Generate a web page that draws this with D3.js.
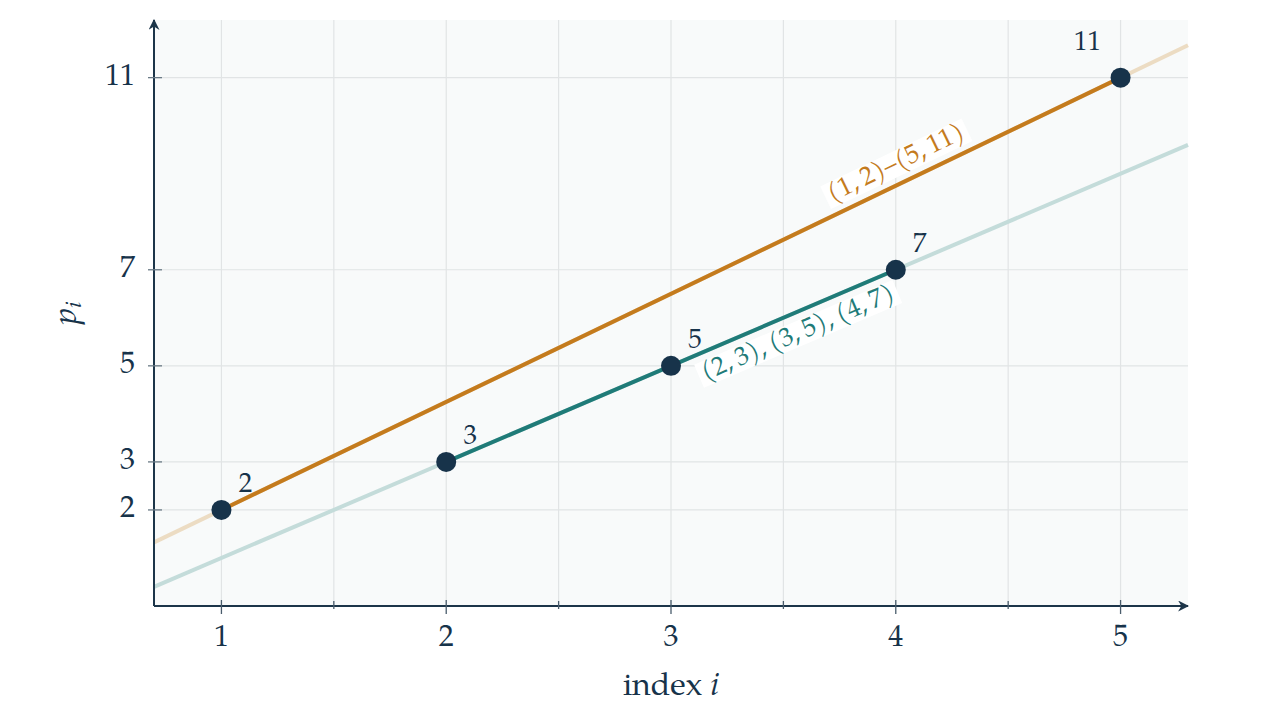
<!DOCTYPE html>
<html>
<head>
<meta charset="utf-8">
<script src="https://cdn.jsdelivr.net/npm/d3@7"></script>
<style>
  body { margin: 0; background: #fff; }
  text { font-family: "Palatino Linotype", Palatino, "TeX Gyre Pagella", "Liberation Serif", serif; fill: #17334a; }
</style>
</head>
<body>
<svg id="chart" width="1272" height="716"></svg>
<script>
// data
const indices = [1, 2, 3, 4, 5];
const primes = [2, 3, 5, 7, 11];
const yTicks = [2, 3, 5, 7, 11];
const xTicks = [1, 2, 3, 4, 5];
const xGrid = [1, 1.5, 2, 2.5, 3, 3.5, 4, 4.5, 5];
// line through first and last point, and line through points 2..4
const orangeIdx = [0, 4];
const tealIdx = [1, 2, 3];
const orangeLabel = "(1,\u20092)–(5,\u200911)";
const tealLabel = "(2,\u20093),\u2009(3,\u20095),\u2009(4,\u20097)";

const navy = "#17334a";
const orange = "#c47b1d";
const teal = "#1f7b78";

const svg = d3.select("#chart");
const x = d3.scaleLinear().domain([0.7, 5.3]).range([154, 1188]);
const y = d3.scaleLinear().domain([0, 12.2]).range([606, 20]);
const [x0, x1] = x.domain();
const [y0, y1] = y.domain();

// fond
svg.append("rect")
  .attr("x", x(x0)).attr("y", y(y1))
  .attr("width", x(x1) - x(x0)).attr("height", y(y0) - y(y1))
  .attr("fill", "#f8fafa");

// grille
svg.selectAll(".gx").data(xGrid).enter().append("line")
  .attr("x1", d => x(d)).attr("x2", d => x(d))
  .attr("y1", y(y0)).attr("y2", y(y1))
  .attr("stroke", "#e1e4e5").attr("stroke-width", 1.2);
svg.selectAll(".gy").data(yTicks).enter().append("line")
  .attr("x1", x(x0)).attr("x2", x(x1))
  .attr("y1", d => y(d)).attr("y2", d => y(d))
  .attr("stroke", "#e1e4e5").attr("stroke-width", 1.2);

// droites
function fitLine(ids) {
  const a = ids[0], b = ids[ids.length - 1];
  const m = (primes[b] - primes[a]) / (indices[b] - indices[a]);
  const f = t => primes[a] + m * (t - indices[a]);
  return { f, from: indices[a], to: indices[b], m };
}
function drawFit(fit, color, faded) {
  svg.append("line")
    .attr("x1", x(x0)).attr("y1", y(fit.f(x0)))
    .attr("x2", x(x1)).attr("y2", y(fit.f(x1)))
    .attr("stroke", faded).attr("stroke-width", 4);
  svg.append("line")
    .attr("x1", x(fit.from)).attr("y1", y(fit.f(fit.from)))
    .attr("x2", x(fit.to)).attr("y2", y(fit.f(fit.to)))
    .attr("stroke", color).attr("stroke-width", 4);
}
const fitO = fitLine(orangeIdx);
const fitT = fitLine(tealIdx);
drawFit(fitO, orange, "#ecdcc3");
drawFit(fitT, teal, "#c4dcda");

// étiquettes inclinées
function slopeLabel(fit, t, text, color, offset) {
  const px = x(t), py = y(fit.f(t));
  const ang = Math.atan2(y(fit.f(t + 1)) - py, x(t + 1) - px) * 180 / Math.PI;
  const g = svg.append("g")
    .attr("transform", `translate(${px},${py}) rotate(${ang}) translate(0,${offset})`);
  const txt = g.append("text")
    .attr("text-anchor", "middle").attr("dominant-baseline", "central")
    .attr("font-size", 26).style("fill", color).text(text);
  const bb = txt.node().getBBox();
  g.insert("rect", "text")
    .attr("x", bb.x - 4).attr("y", bb.y + 1)
    .attr("width", bb.width + 8).attr("height", bb.height - 2)
    .attr("fill", "#fff");
}
slopeLabel(fitO, 4.04, orangeLabel, orange, -19);
slopeLabel(fitT, 3.53, tealLabel, teal, 21);

// axes
const axisColor = "#1c3549";
svg.append("defs").append("marker")
  .attr("id", "arrow").attr("viewBox", "0 0 10 10")
  .attr("refX", 9).attr("refY", 5)
  .attr("markerWidth", 11).attr("markerHeight", 11)
  .attr("markerUnits", "userSpaceOnUse")
  .attr("orient", "auto")
  .append("path").attr("d", "M0,0 L10,5 L0,10 L3,5 Z").attr("fill", axisColor);

svg.append("line")
  .attr("x1", x(x0)).attr("y1", y(y0)).attr("x2", x(x1)).attr("y2", y(y0))
  .attr("stroke", axisColor).attr("stroke-width", 2).attr("marker-end", "url(#arrow)");
svg.append("line")
  .attr("x1", x(x0)).attr("y1", y(y0)).attr("x2", x(x0)).attr("y2", y(y1))
  .attr("stroke", axisColor).attr("stroke-width", 2).attr("marker-end", "url(#arrow)");

// graduations
svg.selectAll(".tx").data(xGrid).enter().append("line")
  .attr("x1", d => x(d)).attr("x2", d => x(d))
  .attr("y1", d => Number.isInteger(d) ? y(y0) - 6 : y(y0) - 5)
  .attr("y2", d => Number.isInteger(d) ? y(y0) + 8 : y(y0) + 3)
  .attr("stroke", "#4a5d6c").attr("stroke-width", 1.3);
svg.selectAll(".ty").data(yTicks).enter().append("line")
  .attr("x1", x(x0) - 6).attr("x2", x(x0) + 8)
  .attr("y1", d => y(d)).attr("y2", d => y(d))
  .attr("stroke", "#6a7a86").attr("stroke-width", 1.3);

svg.selectAll(".lx").data(xTicks).enter().append("text")
  .attr("x", d => x(d)).attr("y", y(y0) + 33)
  .attr("text-anchor", "middle").attr("dominant-baseline", "central")
  .attr("font-size", 30).text(d => d);
svg.selectAll(".ly").data(yTicks).enter().append("text")
  .attr("x", x(x0) - 19).attr("y", d => y(d))
  .attr("text-anchor", "end").attr("dominant-baseline", "central")
  .attr("font-size", 30).text(d => d);

// titres
const xt = svg.append("text")
  .attr("x", (x(x0) + x(x1)) / 2).attr("y", 688)
  .attr("text-anchor", "middle").attr("dominant-baseline", "central")
  .attr("font-size", 32);
xt.append("tspan").text("index ");
xt.append("tspan").attr("font-style", "italic").text("i");

const yt = svg.append("text")
  .attr("transform", `translate(68,${y(6.1)}) rotate(-90)`)
  .attr("text-anchor", "middle").attr("dominant-baseline", "central")
  .attr("font-size", 33);
yt.append("tspan").attr("font-style", "italic").text("p");
yt.append("tspan").attr("font-style", "italic").attr("font-size", 23).attr("dy", 7).text("i");

// points
svg.selectAll(".pt").data(indices).enter().append("circle")
  .attr("cx", d => x(d)).attr("cy", (d, i) => y(primes[i]))
  .attr("r", 10).attr("fill", navy);

svg.selectAll(".pl").data(indices).enter().append("text")
  .attr("x", (d, i) => x(d) + (i === indices.length - 1 ? -33 : 24))
  .attr("y", (d, i) => y(primes[i]) + (i === indices.length - 1 ? -34 : -24))
  .attr("text-anchor", "middle").attr("dominant-baseline", "central")
  .attr("font-size", 27).text((d, i) => primes[i]);
</script>
</body>
</html>
